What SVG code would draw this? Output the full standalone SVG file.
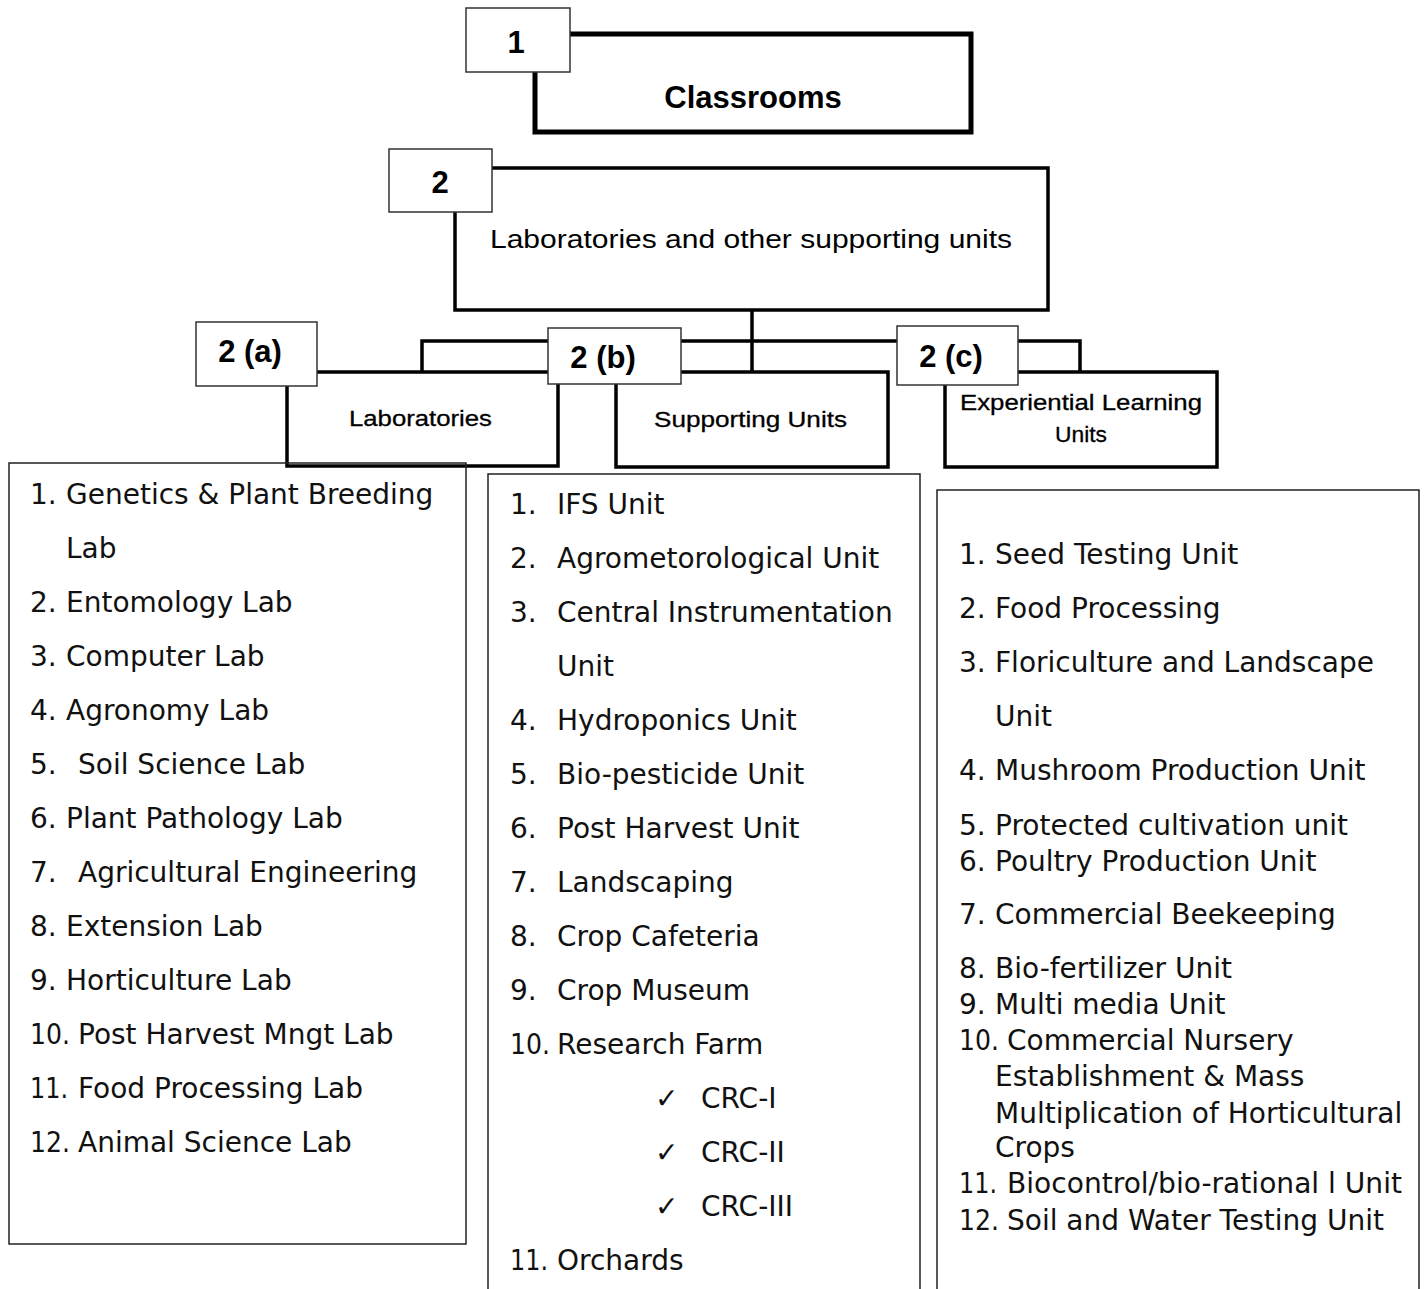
<svg xmlns="http://www.w3.org/2000/svg" width="1424" height="1289" viewBox="0 0 1424 1289">
<style>
.tag{fill:#fff;stroke:#333;stroke-width:1.5}
.main{fill:#fff;stroke:#000;stroke-width:3.5}
.thick{fill:#fff;stroke:#000;stroke-width:5}
.list{fill:none;stroke:#222;stroke-width:1.5}
.conn{fill:none;stroke:#000;stroke-width:3.5}
.num{font-family:"Liberation Sans",Arial,sans-serif;font-weight:bold;font-size:31px;fill:#000;text-anchor:middle}
.hd{font-family:"Liberation Sans",Arial,sans-serif;font-size:25px;fill:#000;text-anchor:middle}
.sub{font-family:"Liberation Sans",Arial,sans-serif;font-size:22px;fill:#000;text-anchor:middle;stroke:#000;stroke-width:0.3}
.li{font-family:"DejaVu Sans","Liberation Sans",sans-serif;font-size:28px;fill:#111}
</style>
<rect width="1424" height="1289" fill="#fff"/>

<g id="connectors">
<line class="conn" x1="752" y1="310" x2="752" y2="372"/>
<polyline class="conn" points="422,372 422,341 1080,341 1080,372"/>
</g>

<g id="node-classrooms">
<rect class="thick" x="535" y="34" width="436" height="98"/>
<text class="num" x="753" y="108">Classrooms</text>
<rect class="tag" x="466" y="8" width="104" height="64"/>
<text class="num" x="516" y="53">1</text>
</g>

<g id="node-labs-support">
<rect class="main" x="455" y="168" width="593" height="142"/>
<text class="hd" x="751" y="248" textLength="522" lengthAdjust="spacingAndGlyphs">Laboratories and other supporting units</text>
<rect class="tag" x="389" y="149" width="103" height="63"/>
<text class="num" x="440" y="193">2</text>
</g>

<g id="node-laboratories">
<rect class="main" x="287" y="372" width="271" height="94"/>
<text class="sub" x="420.5" y="426" textLength="143" lengthAdjust="spacingAndGlyphs">Laboratories</text>
<rect class="tag" x="196" y="322" width="121" height="64"/>
<text class="num" x="250" y="362">2 (a)</text>
</g>

<g id="node-supporting">
<rect class="main" x="616" y="372" width="272" height="95"/>
<text class="sub" x="750.5" y="427" textLength="193" lengthAdjust="spacingAndGlyphs">Supporting Units</text>
<rect class="tag" x="548" y="328" width="133" height="56"/>
<text class="num" x="603" y="368">2 (b)</text>
</g>

<g id="node-experiential">
<rect class="main" x="945" y="372" width="272" height="95"/>
<text class="sub" x="1081" y="410" textLength="242" lengthAdjust="spacingAndGlyphs">Experiential Learning</text>
<text class="sub" x="1081" y="442" textLength="52" lengthAdjust="spacingAndGlyphs">Units</text>
<rect class="tag" x="897" y="326" width="121" height="59"/>
<text class="num" x="951" y="367">2 (c)</text>
</g>

<g id="list-laboratories">
<rect class="list" x="9" y="463" width="457" height="781"/>
<text class="li" y="504"><tspan x="30">1.</tspan><tspan x="66">Genetics &amp; Plant Breeding</tspan></text>
<text class="li" x="66" y="558">Lab</text>
<text class="li" y="612"><tspan x="30">2.</tspan><tspan x="66">Entomology Lab</tspan></text>
<text class="li" y="666"><tspan x="30">3.</tspan><tspan x="66">Computer Lab</tspan></text>
<text class="li" y="720"><tspan x="30">4.</tspan><tspan x="66">Agronomy Lab</tspan></text>
<text class="li" y="774"><tspan x="30">5.</tspan><tspan x="78">Soil Science Lab</tspan></text>
<text class="li" y="828"><tspan x="30">6.</tspan><tspan x="66">Plant Pathology Lab</tspan></text>
<text class="li" y="882"><tspan x="30">7.</tspan><tspan x="78">Agricultural Engineering</tspan></text>
<text class="li" y="936"><tspan x="30">8.</tspan><tspan x="66">Extension Lab</tspan></text>
<text class="li" y="990"><tspan x="30">9.</tspan><tspan x="66">Horticulture Lab</tspan></text>
<text class="li" y="1044"><tspan x="30" textLength="40" lengthAdjust="spacingAndGlyphs">10.</tspan><tspan x="78">Post Harvest Mngt Lab</tspan></text>
<text class="li" y="1098"><tspan x="30" textLength="38" lengthAdjust="spacingAndGlyphs">11.</tspan><tspan x="78">Food Processing Lab</tspan></text>
<text class="li" y="1152"><tspan x="30" textLength="40" lengthAdjust="spacingAndGlyphs">12.</tspan><tspan x="78">Animal Science Lab</tspan></text>
</g>

<g id="list-supporting">
<rect class="list" x="488" y="474" width="432" height="830"/>
<text class="li" y="514"><tspan x="510">1.</tspan><tspan x="557">IFS Unit</tspan></text>
<text class="li" y="568"><tspan x="510">2.</tspan><tspan x="557">Agrometorological Unit</tspan></text>
<text class="li" y="622"><tspan x="510">3.</tspan><tspan x="557">Central Instrumentation</tspan></text>
<text class="li" x="557" y="676">Unit</text>
<text class="li" y="730"><tspan x="510">4.</tspan><tspan x="557">Hydroponics Unit</tspan></text>
<text class="li" y="784"><tspan x="510">5.</tspan><tspan x="557">Bio-pesticide Unit</tspan></text>
<text class="li" y="838"><tspan x="510">6.</tspan><tspan x="557">Post Harvest Unit</tspan></text>
<text class="li" y="892"><tspan x="510">7.</tspan><tspan x="557">Landscaping</tspan></text>
<text class="li" y="946"><tspan x="510">8.</tspan><tspan x="557">Crop Cafeteria</tspan></text>
<text class="li" y="1000"><tspan x="510">9.</tspan><tspan x="557">Crop Museum</tspan></text>
<text class="li" y="1054"><tspan x="510" textLength="40" lengthAdjust="spacingAndGlyphs">10.</tspan><tspan x="557">Research Farm</tspan></text>
<text class="li" y="1108"><tspan x="655">✓</tspan><tspan x="701">CRC-I</tspan></text>
<text class="li" y="1162"><tspan x="655">✓</tspan><tspan x="701">CRC-II</tspan></text>
<text class="li" y="1216"><tspan x="655">✓</tspan><tspan x="701">CRC-III</tspan></text>
<text class="li" y="1270"><tspan x="510" textLength="38" lengthAdjust="spacingAndGlyphs">11.</tspan><tspan x="557">Orchards</tspan></text>
</g>

<g id="list-experiential">
<rect class="list" x="937" y="490" width="482" height="820"/>
<text class="li" y="564"><tspan x="959">1.</tspan><tspan x="995">Seed Testing Unit</tspan></text>
<text class="li" y="618"><tspan x="959">2.</tspan><tspan x="995">Food Processing</tspan></text>
<text class="li" y="672"><tspan x="959">3.</tspan><tspan x="995">Floriculture and Landscape</tspan></text>
<text class="li" x="995" y="726">Unit</text>
<text class="li" y="780"><tspan x="959">4.</tspan><tspan x="995">Mushroom Production Unit</tspan></text>
<text class="li" y="835"><tspan x="959">5.</tspan><tspan x="995">Protected cultivation unit</tspan></text>
<text class="li" y="871"><tspan x="959">6.</tspan><tspan x="995">Poultry Production Unit</tspan></text>
<text class="li" y="924"><tspan x="959">7.</tspan><tspan x="995">Commercial Beekeeping</tspan></text>
<text class="li" y="978"><tspan x="959">8.</tspan><tspan x="995">Bio-fertilizer Unit</tspan></text>
<text class="li" y="1014"><tspan x="959">9.</tspan><tspan x="995">Multi media Unit</tspan></text>
<text class="li" y="1050"><tspan x="959" textLength="40" lengthAdjust="spacingAndGlyphs">10.</tspan><tspan x="1007">Commercial Nursery</tspan></text>
<text class="li" x="995" y="1086">Establishment &amp; Mass</text>
<text class="li" x="995" y="1123">Multiplication of Horticultural</text>
<text class="li" x="995" y="1157">Crops</text>
<text class="li" y="1193"><tspan x="959" textLength="38" lengthAdjust="spacingAndGlyphs">11.</tspan><tspan x="1007" textLength="395" lengthAdjust="spacingAndGlyphs">Biocontrol/bio-rational l Unit</tspan></text>
<text class="li" y="1230"><tspan x="959" textLength="40" lengthAdjust="spacingAndGlyphs">12.</tspan><tspan x="1007">Soil and Water Testing Unit</tspan></text>
</g>
</svg>
